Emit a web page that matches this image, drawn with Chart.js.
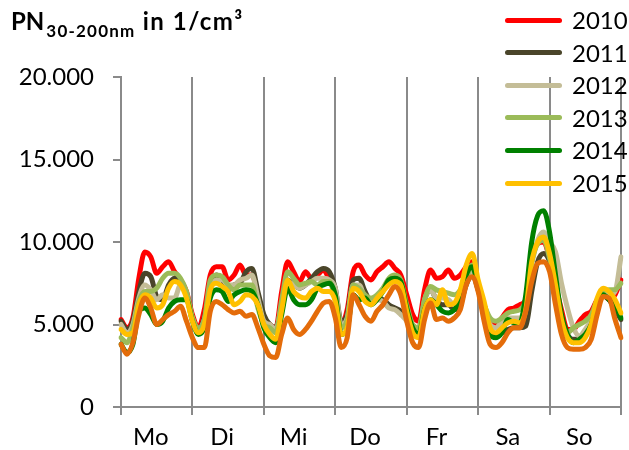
<!DOCTYPE html>
<html>
<head>
<meta charset="utf-8">
<script src="https://cdn.jsdelivr.net/npm/chart.js@4.4.1/dist/chart.umd.min.js"></script>
<style>
html, body { margin: 0; padding: 0; background: #fff; }
#wrap { position: relative; width: 629px; height: 450px; font-family: Lato, "Open Sans", sans-serif; }
#chart { position: absolute; left: 0; top: 0; }
#title { position: absolute; left: 11px; top: 6px; font-weight: 700; font-size: 24px; color: #000; white-space: nowrap; }
#title sub { font-size: 17px; vertical-align: -7px; line-height: 0; letter-spacing: 1.2px; margin-left: 2px; }
#title .rest { letter-spacing: 1.5px; }
.lg-line { position: absolute; left: 505px; width: 57px; height: 5px; border-radius: 3px; }
.lg-text { position: absolute; left: 572px; font-size: 24px; line-height: 24px; color: #000; }
</style>
</head>
<body>
<div id="wrap">
  <canvas id="chart" width="629" height="450"></canvas>
  <div id="title">PN<sub>30-200nm</sub><span class="rest"> in 1/cm³</span></div>
  <div id="legend"></div>
</div>
<script>
// one value every 2 hours, Monday 0:00 .. next Monday 0:00
var DAYS = ["Mo", "Di", "Mi", "Do", "Fr", "Sa", "So"];
var HOUR_STEPS = [0, 2, 4, 6, 8, 10, 12, 14, 16, 18, 20, 22];

var Y2010 = [
  5300, 4800, 5400, 7800, 9400, 9100, 8100, 8500, 8800, 8200, 7700, 7000,
  5600, 4800, 5900, 8000, 8500, 8500, 7700, 8000, 8600, 8000, 8000, 6800,
  5400, 5000, 4800, 7000, 8800, 8200, 7600, 8200, 7800, 8000, 8300, 7700,
  6800, 5000, 5900, 8200, 8600, 8000, 7700, 8200, 8500, 8800, 8400, 8000,
  6800, 5600, 5200, 7100, 8300, 7800, 7900, 8300, 7800, 8000, 8500, 8800,
  7400, 6200, 5200, 5000, 5400, 5900, 6000, 6200, 6500, 8900, 9900, 10000,
  9000, 7400, 5900, 4700, 4700, 5200, 5600, 5800, 6500, 6800, 6500, 6800,
  7700
];
var Y2011 = [
  5200, 4700, 5200, 7000, 8100, 7900, 6700, 6500, 7400, 7800, 7500, 6800,
  5400, 4700, 5400, 7400, 8000, 7700, 7100, 7400, 7500, 8200, 8400, 7000,
  5600, 5000, 4800, 6200, 7700, 7400, 7200, 7400, 7800, 8200, 8400, 8200,
  7200, 5200, 5600, 7700, 7800, 7000, 6400, 6600, 6500, 6200, 6000, 5800,
  5300, 4700, 4700, 6500, 7100, 6500, 6200, 6200, 5900, 6200, 7400, 8000,
  7100, 5800, 4700, 4400, 4500, 4700, 4800, 4800, 4900, 7000, 8800, 9300,
  8800, 7100, 5400, 4400, 4100, 4100, 4400, 5000, 6200, 6800, 6500, 5900,
  5300
];
var Y2012 = [
  5000, 4500, 5000, 6600, 7400, 7100, 6500, 6800, 6600, 6600, 7400, 6800,
  5400, 4700, 5300, 7100, 7700, 7700, 7400, 7400, 7700, 7800, 8000, 6600,
  5200, 5000, 4700, 6200, 7600, 7400, 7200, 7400, 7600, 7800, 7800, 7700,
  7200, 5000, 5400, 7400, 7400, 6600, 6400, 6500, 6400, 6000, 5900, 5600,
  5200, 4500, 4500, 6500, 7100, 6600, 6600, 6500, 6200, 6500, 7700, 8200,
  7200, 6000, 5000, 4800, 5200, 5400, 5400, 5400, 6200, 8600, 10100, 10600,
  10000, 9400, 7500, 6000, 4800, 4300, 4700, 5300, 6300, 6800, 6800, 7000,
  9100
];
var Y2013 = [
  4200, 3900, 4800, 6400, 7000, 7000, 7200, 7800, 8100, 8100, 7800, 7000,
  5400, 4800, 5300, 7700, 8000, 7900, 7400, 7100, 7400, 7400, 7400, 6000,
  5000, 4800, 4500, 6500, 8200, 7800, 7400, 7500, 7600, 7400, 7600, 7600,
  6500, 4800, 5300, 7400, 7200, 6800, 6600, 6800, 7200, 7800, 8000, 7700,
  6200, 5000, 4800, 6500, 7300, 7100, 7000, 6900, 6800, 7100, 7800, 8600,
  7200, 6200, 5400, 5200, 5400, 5700, 5800, 5900, 6500, 8800, 9900, 10100,
  9000, 7100, 5400, 4500, 4800, 5000, 5200, 5600, 6500, 7000, 7100, 7100,
  7500
];
var Y2014 = [
  3800, 3300, 3800, 5800, 6000, 5600, 5000, 5200, 6000, 6400, 6500, 6500,
  5200, 4400, 4800, 6600, 7100, 7000, 6400, 6800, 7000, 7100, 7000, 6200,
  4800, 4200, 3900, 5600, 7200, 6500, 6200, 6200, 6500, 7200, 7400, 7500,
  6800, 4400, 4700, 6800, 6500, 6600, 6200, 6500, 7000, 7700, 7800, 7600,
  6000, 4800, 4400, 5900, 6500, 6200, 5800, 5700, 5900, 6500, 8000, 8500,
  7300, 5600, 4400, 4200, 4500, 5300, 5100, 5100, 6800, 10000, 11600, 11900,
  10600, 8000, 5600, 4400, 3900, 4100, 4400, 5000, 6200, 6800, 6500, 6200,
  5400
];
var Y2015 = [
  4700, 4400, 4500, 6200, 6800, 6600, 6000, 6200, 7200, 7600, 7400, 6600,
  5200, 4500, 5000, 7100, 7500, 7300, 7000, 6200, 6400, 6800, 6700, 6200,
  5000, 4400, 4100, 5900, 7700, 7000, 6700, 6600, 7000, 7200, 7000, 7000,
  6400, 4400, 4800, 7200, 7000, 6400, 6200, 6600, 7000, 7400, 7600, 7400,
  5800, 4500, 4200, 5900, 6500, 6200, 7100, 6200, 6300, 7100, 8600, 9300,
  7700, 6400, 4800, 4500, 4800, 5100, 5200, 5100, 5900, 8800, 10000, 10300,
  9300, 7400, 5300, 4200, 3900, 3900, 4200, 5000, 6600, 7200, 7000, 6500,
  5700
];
// orange line without legend entry
var Y_ORANGE = [
  3800, 3200, 3900, 5600, 6600, 6000, 5000, 5300, 5600, 5800, 6100, 5200,
  4200, 3600, 3600, 5800, 6400, 6200, 5900, 5700, 5800, 5500, 5600, 4800,
  3800, 3100, 3000, 4400, 5400, 4700, 4400, 4700, 5200, 5800, 6300, 6400,
  5400, 3600, 4200, 6800, 6200, 5500, 5200, 5800, 6200, 6800, 7300, 6800,
  5200, 3900, 3600, 5300, 6300, 5300, 5400, 5200, 5400, 5900, 7400, 7900,
  7000, 5200, 3800, 3600, 3900, 4500, 4800, 4800, 5800, 7600, 8700, 8800,
  8200, 6200, 4400, 3600, 3500, 3500, 3600, 4100, 5600, 6700, 6600, 5300,
  4200
];

var SERIES = [
  { name: "2010", data: Y2010, color: "#ff0000", legend: true },
  { name: "2011", data: Y2011, color: "#4a452a", legend: true },
  { name: "2012", data: Y2012, color: "#c4bd97", legend: true },
  { name: "2013", data: Y2013, color: "#9bbb59", legend: true },
  { name: "2014", data: Y2014, color: "#008000", legend: true },
  { name: "2015", data: Y2015, color: "#ffc000", legend: true },
  { name: "", data: Y_ORANGE, color: "#e46c0a", legend: false }
];

var labels = [];
DAYS.forEach(function(d) {
  HOUR_STEPS.forEach(function(h) { labels.push(d + " " + h + ":00"); });
});
labels.push(DAYS[0] + " 0:00");

function fmtDe(v) {
  return String(v).replace(/\B(?=(\d{3})+(?!\d))/g, ".");
}

var GRID = "#8a8a8a";
var FONT = { family: "Lato, 'Open Sans', sans-serif", size: 24 };

new Chart(document.getElementById("chart").getContext("2d"), {
  type: "line",
  data: {
    labels: labels,
    datasets: SERIES.map(function(s, i) {
      return {
        label: s.name,
        data: s.data,
        borderColor: s.color,
        backgroundColor: s.color,
        borderWidth: 5,
        pointRadius: 0,
        borderCapStyle: "round",
        borderJoinStyle: "round",
        cubicInterpolationMode: "monotone",
        fill: false,
        order: SERIES.length - i
      };
    })
  },
  options: {
    responsive: false,
    animation: false,
    layout: { padding: { top: 77, right: 2, left: 0, bottom: 0 } },
    plugins: { legend: { display: false }, tooltip: { enabled: false } },
    scales: {
      x: {
        type: "category",
        offset: false,
        ticks: {
          autoSkip: false, maxRotation: 0, minRotation: 0,
          color: "#000", font: FONT, padding: 8,
          callback: function(v, i) { return i % 12 === 5 ? DAYS[(i - 5) / 12] : ""; }
        },
        grid: {
          color: function(c) { return c.index % 12 === 0 ? GRID : "rgba(0,0,0,0)"; },
          lineWidth: 2, tickLength: 8, drawTicks: true
        },
        border: { color: GRID, width: 2 },
        afterFit: function(s) { s.height = 43; }
      },
      y: {
        min: 0, max: 20000,
        ticks: {
          stepSize: 5000, color: "#000", font: FONT, padding: 19,
          callback: function(v) { return fmtDe(v); }
        },
        grid: { drawOnChartArea: false, drawTicks: true, tickLength: 8, color: GRID, lineWidth: 2 },
        border: { color: GRID, width: 2 },
        afterFit: function(s) { s.width = 121; }
      }
    }
  }
});

// legend top right (orange line has no entry)
var lg = document.getElementById("legend");
var lgHtml = "";
SERIES.filter(function(s) { return s.legend; }).forEach(function(s, i) {
  var y = 20 + i * 32.6;
  lgHtml += '<div class="lg-line" style="top:' + (y - 2.5) + 'px;background:' + s.color + ';"></div>';
  lgHtml += '<div class="lg-text" style="top:' + (y - 12) + 'px;">' + s.name + '</div>';
});
lg.innerHTML = lgHtml;
</script>
</body>
</html>
